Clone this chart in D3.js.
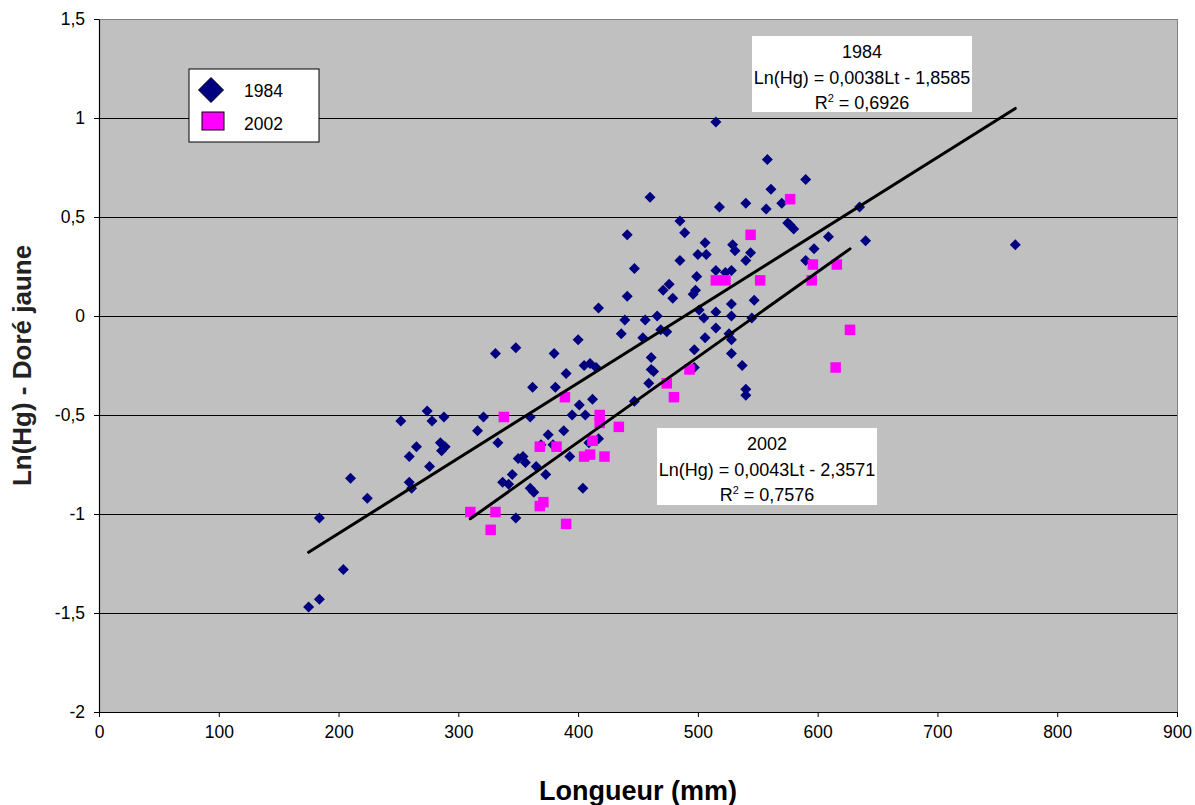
<!DOCTYPE html>
<html>
<head>
<meta charset="utf-8">
<script src="https://cdn.jsdelivr.net/npm/d3@7"></script>
<style>
  body { margin: 0; background: #fff; }
  svg { display: block; font-family: Arial, "Liberation Sans", sans-serif; }
</style>
</head>
<body>
<svg id="chart" width="1195" height="805"></svg>
<script>
// 1984 series: length (mm) and Ln(Hg)
var len1984 = [175, 184, 184, 204, 210, 224, 252, 274, 278, 288, 265, 259, 285, 289, 286, 276, 259, 261, 321, 316,
  441, 447, 441, 417, 439, 436, 400, 331, 348, 380, 405, 410, 415, 390, 362, 381, 412, 401, 395, 406, 447, 360, 454,
  515, 558, 590, 561, 460, 518, 540, 557, 570, 485, 489, 575, 577, 580, 609, 635, 506, 529, 531, 500, 507, 544, 485,
  540, 597, 590, 515, 523, 528, 499, 471, 476, 479, 496, 498, 547, 528, 501, 515, 466, 456, 505, 528, 545, 469, 474,
  515, 506, 526, 528, 497, 528, 461, 461, 463, 497, 537, 459, 540, 540, 640, 765,
  333, 337, 342, 345, 348, 350, 354, 356, 360, 363, 365, 369, 373, 375, 379, 388, 393, 404, 409, 417];
var hg1984 = [-1.47, -1.43, -1.02, -1.28, -0.82, -0.92, -0.53, -0.48, -0.53, -0.51, -0.66, -0.71, -0.64, -0.66, -0.68, -0.76, -0.84, -0.87, -0.51, -0.58,
  0.41, 0.24, 0.10, 0.04, -0.02, -0.09, -0.12, -0.19, -0.16, -0.19, -0.25, -0.24, -0.26, -0.29, -0.36, -0.36, -0.42, -0.45, -0.50, -0.50, -0.43, -0.51, -0.11,
  0.98, 0.79, 0.69, 0.64, 0.60, 0.55, 0.57, 0.54, 0.57, 0.48, 0.42, 0.47, 0.46, 0.44, 0.40, 0.55, 0.37, 0.36, 0.33, 0.31, 0.31, 0.32, 0.28,
  0.28, 0.34, 0.28, 0.23, 0.22, 0.23, 0.20, 0.13, 0.16, 0.09, 0.11, 0.13, 0.08, 0.06, 0.03, 0.02, 0.00, -0.02, -0.01, 0.00, -0.01, -0.07, -0.08,
  -0.06, -0.11, -0.09, -0.12, -0.17, -0.19, -0.21, -0.27, -0.28, -0.26, -0.25, -0.34, -0.37, -0.40, 0.38, 0.36,
  -0.64, -0.84, -0.85, -0.80, -1.02, -0.72, -0.71, -0.74, -0.87, -0.89, -0.76, -0.65, -0.80, -0.60, -0.65, -0.58, -0.71, -0.87, -0.64, -0.62];

// 2002 series
var len2002 = [310, 327, 331, 338, 368, 368, 371, 382, 389, 390, 405, 410, 412, 418, 418, 422, 434, 474, 480, 493,
  515, 523, 544, 552, 577, 595, 596, 616, 615, 627];
var hg2002 = [-0.99, -1.08, -0.99, -0.51, -0.66, -0.96, -0.94, -0.66, -0.41, -1.05, -0.71, -0.70, -0.63, -0.50, -0.54, -0.71, -0.56, -0.34, -0.41, -0.27,
  0.18, 0.18, 0.41, 0.18, 0.59, 0.18, 0.26, 0.26, -0.26, -0.07];

// trendline coefficients as printed on the chart
var slopes = [0.0038, 0.0043];
var intercepts = [-1.8585, -2.3571];
var seriesNames = ["1984", "2002"];
var eqTexts = ["Ln(Hg) = 0,0038Lt - 1,8585", "Ln(Hg) = 0,0043Lt - 2,3571"];
var r2Texts = ["0,6926", "0,7576"];

var xTicks = [0, 100, 200, 300, 400, 500, 600, 700, 800, 900];
var yTicks = [-2, -1.5, -1, -0.5, 0, 0.5, 1, 1.5];

var svg = d3.select("#chart");

var margin = { top: 19, right: 18, bottom: 93, left: 99 };
var plotWidth = 1195 - margin.left - margin.right;
var plotHeight = 805 - margin.top - margin.bottom;

var xScale = d3.scaleLinear().domain([0, 900]).range([0, plotWidth]);
var yScale = d3.scaleLinear().domain([-2, 1.5]).range([plotHeight, 0]);

var frLocale = d3.formatLocale({ decimal: ",", thousands: " ", grouping: [3], currency: ["", " €"], minus: "-" });
var fmt = frLocale.format("~g");

var plot = svg.append("g")
  .attr("transform", "translate(" + margin.left + "," + margin.top + ")");

// grey plot area
plot.append("rect")
  .attr("width", plotWidth)
  .attr("height", plotHeight)
  .attr("fill", "#c0c0c0")
  .attr("stroke", "#808080")
  .attr("stroke-width", 1)
  .attr("shape-rendering", "crispEdges");

// horizontal gridlines
plot.append("g")
  .selectAll("line")
  .data(yTicks.filter(function(d) { return d > -2 && d < 1.5; }))
  .enter().append("line")
  .attr("x1", 0)
  .attr("x2", plotWidth)
  .attr("y1", function(d) { return Math.round(yScale(d)) + 0.5; })
  .attr("y2", function(d) { return Math.round(yScale(d)) + 0.5; })
  .attr("stroke", "#000")
  .attr("stroke-width", 1);

// axes
var xAxis = d3.axisBottom(xScale).tickValues(xTicks).tickFormat(fmt).tickSize(5).tickPadding(9).tickSizeOuter(0);
var yAxis = d3.axisLeft(yScale).tickValues(yTicks).tickFormat(fmt).tickSize(5).tickPadding(9).tickSizeOuter(0);

var xGroup = plot.append("g").attr("transform", "translate(0," + plotHeight + ")").call(xAxis);
var yGroup = plot.append("g").call(yAxis);

[xGroup, yGroup].forEach(function(g) {
  g.select(".domain").attr("stroke", "#000").attr("stroke-width", 1.2);
  g.selectAll(".tick line").attr("stroke", "#000");
  g.selectAll("text")
    .attr("fill", "#000")
    .style("font-size", "17.5px")
    .style("font-family", "Arial, 'Liberation Sans', sans-serif");
});

var diamond = function(r) {
  return "M0," + (-r) + "L" + r + ",0L0," + r + "L" + (-r) + ",0Z";
};

// 1984 markers
plot.append("g")
  .selectAll("path")
  .data(d3.range(len1984.length))
  .enter().append("path")
  .attr("d", diamond(5.5))
  .attr("transform", function(i) {
    return "translate(" + xScale(len1984[i]) + "," + yScale(hg1984[i]) + ")";
  })
  .attr("fill", "#000080");

// 2002 markers
var sq = 10.5;
plot.append("g")
  .selectAll("rect")
  .data(d3.range(len2002.length))
  .enter().append("rect")
  .attr("x", function(i) { return xScale(len2002[i]) - sq / 2; })
  .attr("y", function(i) { return yScale(hg2002[i]) - sq / 2; })
  .attr("width", sq)
  .attr("height", sq)
  .attr("fill", "#ff00ff");

// trend lines over data range
var ranges = [d3.extent(len1984), d3.extent(len2002)];
ranges.forEach(function(r, k) {
  plot.append("line")
    .attr("x1", xScale(r[0]))
    .attr("y1", yScale(slopes[k] * r[0] + intercepts[k]))
    .attr("x2", xScale(r[1]))
    .attr("y2", yScale(slopes[k] * r[1] + intercepts[k]))
    .attr("stroke", "#000")
    .attr("stroke-width", 3)
    .attr("stroke-linecap", "round");
});

// equation boxes
var eqBoxes = [
  { x: 752, y: 36, w: 220, h: 76 },
  { x: 657, y: 428, w: 220, h: 77 }
];
eqBoxes.forEach(function(b, k) {
  var g = svg.append("g");
  g.append("rect")
    .attr("x", b.x).attr("y", b.y)
    .attr("width", b.w).attr("height", b.h)
    .attr("fill", "#fff");
  var cx = b.x + b.w / 2;
  g.append("text")
    .attr("x", cx).attr("y", b.y + 22)
    .attr("text-anchor", "middle")
    .style("font-size", "18px")
    .text(seriesNames[k]);
  g.append("text")
    .attr("x", cx).attr("y", b.y + 48)
    .attr("text-anchor", "middle")
    .style("font-size", "18px")
    .text(eqTexts[k]);
  var r2 = g.append("text")
    .attr("x", cx).attr("y", b.y + 73)
    .attr("text-anchor", "middle")
    .style("font-size", "18px");
  r2.append("tspan").text("R");
  r2.append("tspan").attr("dy", -7).style("font-size", "11px").text("2");
  r2.append("tspan").attr("dy", 7).text(" = " + r2Texts[k]);
});

// legend
var legend = svg.append("g").attr("transform", "translate(189,69)");
legend.append("rect")
  .attr("width", 130).attr("height", 73)
  .attr("fill", "#fff")
  .attr("stroke", "#000")
  .attr("stroke-width", 1);
legend.append("path")
  .attr("d", diamond(12.5))
  .attr("transform", "translate(22,21)")
  .attr("fill", "#000080")
  .attr("stroke", "#000")
  .attr("stroke-width", 1);
legend.append("rect")
  .attr("x", 13).attr("y", 43)
  .attr("width", 22).attr("height", 18)
  .attr("fill", "#ff00ff")
  .attr("stroke", "#000")
  .attr("stroke-width", 1);
legend.selectAll("text.lbl")
  .data(seriesNames)
  .enter().append("text")
  .attr("class", "lbl")
  .attr("x", 55)
  .attr("y", function(d, i) { return 28 + i * 33; })
  .style("font-size", "17.5px")
  .text(function(d) { return d; });

// axis titles
svg.append("text")
  .attr("x", margin.left + plotWidth / 2)
  .attr("y", 800)
  .attr("text-anchor", "middle")
  .style("font-size", "27px")
  .style("font-weight", "bold")
  .text("Longueur (mm)");

svg.append("text")
  .attr("transform", "translate(31," + (margin.top + plotHeight / 2) + ") rotate(-90)")
  .attr("text-anchor", "middle")
  .style("font-size", "26px")
  .style("font-weight", "bold")
  .attr("fill", "#222")
  .text("Ln(Hg) - Doré jaune");
</script>
</body>
</html>
